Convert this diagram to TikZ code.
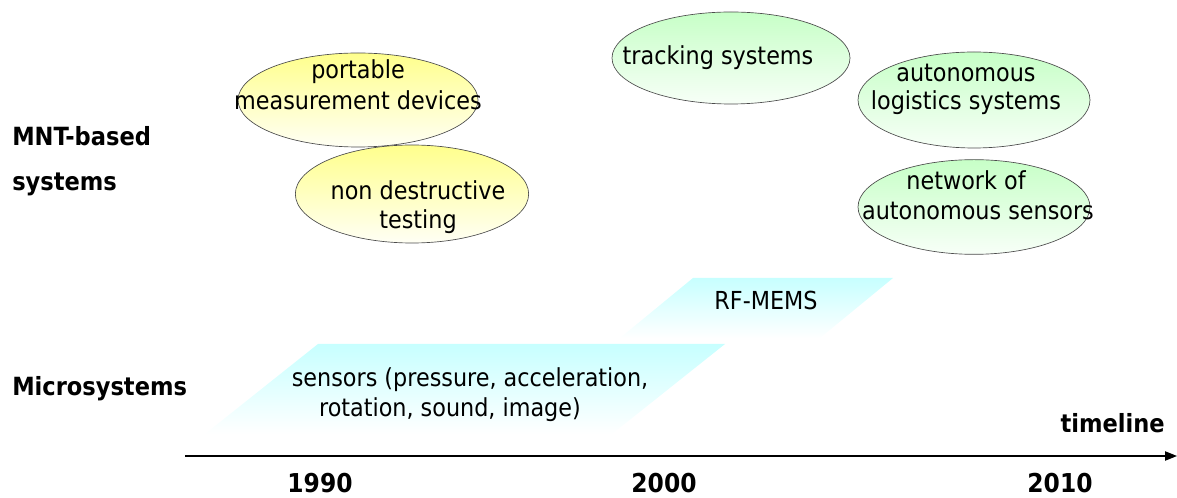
\documentclass[tikz,border=0pt]{standalone}
\usepackage{fontspec}
\setmainfont{DejaVu Sans Condensed}
\usetikzlibrary{shapes.geometric,arrows.meta}
\begin{document}
\begin{tikzpicture}[x=0.75pt,y=-0.75pt,
  txt/.style={font=\fontsize{18.6}{22}\selectfont, inner sep=0pt},
  lbl/.style={font=\bfseries\fontsize{18.8}{22}\selectfont, inner sep=0pt},
  yr/.style={font=\bfseries\fontsize{19.5}{22}\selectfont, inner sep=0pt},
  yell/.style={ellipse, draw=black!70, line width=0.5pt, top color=yellow!45, bottom color=yellow!4, inner sep=0pt},
  grn/.style={ellipse, draw=black!70, line width=0.5pt, top color=green!22, bottom color=green!3, inner sep=0pt},
  band/.style={top color=cyan!22, bottom color=white},
]
\useasboundingbox (0,0) rectangle (1177,498);
% bands
\path[band] (318,344) -- (725,344) -- (612,434) -- (205,434) -- cycle;
\path[band] (693,278) -- (893,278) -- (820,338) -- (620,338) -- cycle;
\node[txt] (sens1) at (470,380) {sensors (pressure, acceleration,};
\node[txt] (sens2) at (450,410) {rotation, sound, image)};
\node[txt] (rf) at (766,300) {RF-MEMS};
% ellipses (sizes in pt = px*0.75)
\node[yell, minimum width=180pt, minimum height=70.5pt] (e1) at (358,100) {};
\node[yell, minimum width=175pt, minimum height=73.5pt] (e2) at (412,194) {};
\node[grn, minimum width=178.5pt, minimum height=69pt] (e3) at (731,58) {};
\node[grn, minimum width=174pt, minimum height=72pt] (e4) at (974,100) {};
\node[grn, minimum width=174pt, minimum height=71pt] (e5) at (974,207) {};
\node[txt] (t1a) at (358,72) {portable};
\node[txt] (t1b) at (358,100) {measurement devices};
\node[txt] (t2a) at (418,190) {non destructive};
\node[txt] (t2b) at (418,222) {testing};
\node[txt] (t3) at (718,58) {tracking systems};
\node[txt] (t4a) at (966,73) {autonomous};
\node[txt] (t4b) at (966,103) {logistics systems};
\node[txt] (t5a) at (966,180) {network of};
\node[txt] (t5b) at (978,211) {autonomous sensors};
% labels
\node[lbl, anchor=west] (mnt1) at (12,136) {MNT-based};
\node[lbl, anchor=west] (mnt2) at (12,184) {systems};
\node[lbl, anchor=west] (micro) at (12,389) {Microsystems};
\node[lbl, anchor=east] (tl) at (1165,423) {timeline};
% axis
\coordinate (a0) at (185,456);
\coordinate (a1) at (1177,456);
\draw[line width=0.9pt, -{Triangle[length=9pt,width=7pt]}] (a0) -- (a1);
\node[yr] (y1) at (320,483) {1990};
\node[yr] (y2) at (664,483) {2000};
\node[yr] (y3) at (1060,483) {2010};
\end{tikzpicture}
\end{document}
